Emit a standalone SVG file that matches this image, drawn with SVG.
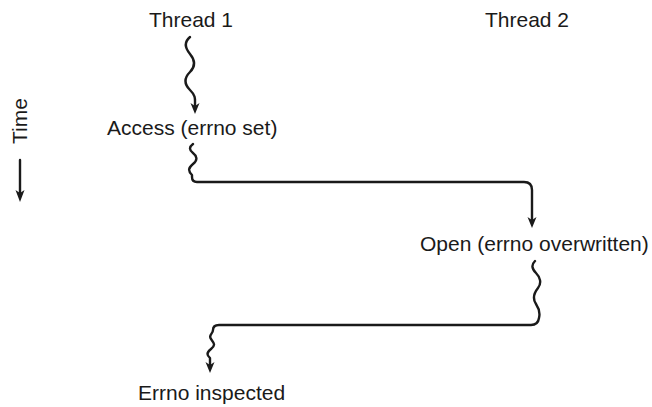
<svg xmlns="http://www.w3.org/2000/svg" width="652" height="407" viewBox="0 0 652 407">
<style>
text{font-family:"Liberation Sans",Arial,sans-serif;font-size:21px;fill:#1a1a1a}
.w{fill:none;stroke:#1a1a1a;stroke-width:2.4;stroke-linecap:round;stroke-linejoin:round}
</style>
<defs>
<marker id="ah" markerUnits="userSpaceOnUse" markerWidth="12" markerHeight="14" viewBox="0 0 12 14" refX="6" refY="12" orient="auto-start-reverse">
<path d="M1,0 L6,3 L11,0 L6,13 z" fill="#1a1a1a" transform="rotate(0)"/>
</marker>
</defs>
<rect width="652" height="407" fill="#fff"/>
<g id="thread1"><text x="191" y="27" text-anchor="middle">Thread 1</text></g>
<g id="thread2"><text x="527" y="27" text-anchor="middle">Thread 2</text></g>
<g id="access"><text x="107" y="135">Access (errno set)</text></g>
<g id="open"><text x="420" y="251">Open (errno overwritten)</text></g>
<g id="inspected"><text x="138" y="400">Errno inspected</text></g>
<g id="time"><text transform="translate(27,121) rotate(-90)" text-anchor="middle">Time</text></g>
<g id="connectors">
<path class="w" d="M20 160 L20 194"/>
<path d="M15.5 190 L20 202 L24.5 190 L20 193 z" fill="#1a1a1a"/>
<path class="w" d="M190 37 c-6 5 -5 11 0 17 s6 12 0 18 s-6 12 0 18 s5 9 5 14 L195 106"/>
<path d="M190.5 103 L195 114 L199.5 103 L195 106 z" fill="#1a1a1a"/>
<path class="w" d="M193 144 c-4 3 -4 6 0 9 s5 7 0 11 s-5 7 -1 11 l0 2 q0 5 5 5 L524 182 q8 0 8 8 L532 220"/>
<path d="M527.5 217 L532 228 L536.5 217 L532 220 z" fill="#1a1a1a"/>
<path class="w" d="M535 261 c-4 4 -3 8 1 12 s6 10 2 15 s-6 10 -2 16 s4 10 3 14 q-1 7 -8 7 L219 325 q-6 0 -6 5 c0 4 -5 5 -2 9 s5 6 0 10 s-4 6 -1 9 L210 365"/>
<path d="M205.5 362 L210 373 L214.5 362 L210 365 z" fill="#1a1a1a"/>
</g>
</svg>
